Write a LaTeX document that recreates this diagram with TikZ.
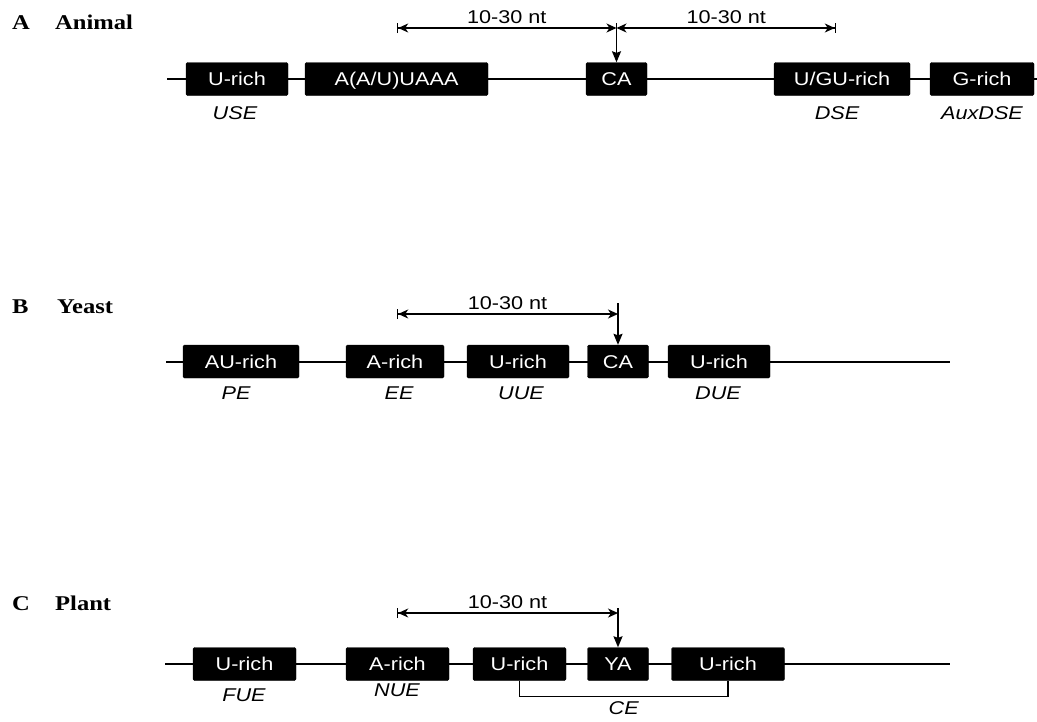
\documentclass[tikz,border=0pt]{standalone}
\usepackage{fontspec}
\usepackage{tikz}
\usetikzlibrary{arrows.meta, positioning}
\newfontfamily\sansface[FakeStretch=1.17]{Liberation Sans}
\newfontfamily\headface[FakeStretch=1.17]{Liberation Serif}
\tikzset{
    elemBox/.style={fill=black, draw=black, rounded corners=1.5pt, inner sep=0pt, minimum height=33pt, text=white, text height=13.5pt, text depth=0pt, font=\sansface\fontsize{18.5}{20}\selectfont},
    elemLabel/.style={inner sep=0pt, font=\sansface\itshape\fontsize{18.5}{20}\selectfont},
    panelHead/.style={anchor=base west, inner sep=0pt, font=\headface\bfseries\fontsize{21}{24}\selectfont},
    backbone/.style={line width=2pt},
    dimLine/.style={line width=1.2pt},
    spanL/.style={dimLine, {Bar[width=10pt]Stealth[length=10pt, width=9pt, inset=3pt]}-{Stealth[length=10pt, width=9pt, inset=3pt]}},
    spanR/.style={dimLine, {Stealth[length=10pt, width=9pt, inset=3pt]}-{Stealth[length=10pt, width=9pt, inset=3pt]Bar[width=10pt]}},
    cutArrow/.style={line width=1.4pt, -{Stealth[length=11pt, width=9pt, inset=1.5pt]}},
    spanText/.style={midway, above=3.5pt, inner sep=0pt, font=\sansface\fontsize{18.5}{20}\selectfont}
}
\begin{document}
\begin{tikzpicture}[x=1pt, y=-1pt]
    \useasboundingbox (0,0) rectangle (1037,721);
    % --- Panel A: Animal ---
    \begin{scope}[shift={(0,79)}]
        \node[panelHead] (hA) at (12,-50) {A};
        \node[panelHead] (tA) at (55,-50) {Animal};
        \coordinate (sA) at (167,0); \coordinate (eA) at (1037,0);
        \draw[backbone] (sA)--(eA);
        \node[elemBox, minimum width=102pt] (uA) at (237,0) {U-rich};
        \node[elemBox, minimum width=183pt] (hexA) at (396.5,0) {A(A/U)UAAA};
        \node[elemBox, minimum width=61pt] (caA) at (616.5,0) {CA};
        \node[elemBox, minimum width=136pt] (ugA) at (842,0) {U/GU-rich};
        \node[elemBox, minimum width=104pt] (gA) at (982,0) {G-rich};
        \node[elemLabel] (lUSE) at (235,34) {USE};
        \node[elemLabel] (lDSE) at (837,34) {DSE};
        \node[elemLabel] (lAux) at (982,34) {AuxDSE};
        \coordinate (dlA) at (397,-51); \coordinate (dmA) at (616.5,-51); \coordinate (drA) at (836,-51);
        \coordinate (cutA) at (616.5,-56);
        \draw[spanL] (dlA)--(dmA) node[spanText]{10-30 nt};
        \draw[spanR] (dmA)--(drA) node[spanText]{10-30 nt};
        \draw[cutArrow] (cutA)--(caA.north);
    \end{scope}
    % --- Panel B: Yeast ---
    \begin{scope}[shift={(0,361.5)}]
        \node[panelHead] (hB) at (12,-48.5) {B};
        \node[panelHead] (tB) at (57,-48.5) {Yeast};
        \coordinate (sB) at (166,0); \coordinate (eB) at (950,0);
        \draw[backbone] (sB)--(eB);
        \node[elemBox, minimum width=116pt] (auB) at (241,0) {AU-rich};
        \node[elemBox, minimum width=98pt] (aB) at (395,0) {A-rich};
        \node[elemBox, minimum width=102pt] (uB) at (518,0) {U-rich};
        \node[elemBox, minimum width=61pt] (caB) at (618,0) {CA};
        \node[elemBox, minimum width=102pt] (duB) at (719,0) {U-rich};
        \node[elemLabel] (lPE) at (236,31.5) {PE};
        \node[elemLabel] (lEE) at (399,31.5) {EE};
        \node[elemLabel] (lUUE) at (521,31.5) {UUE};
        \node[elemLabel] (lDUE) at (718,31.5) {DUE};
        \coordinate (dlB) at (397,-47.5); \coordinate (dmB) at (618,-47.5);
        \coordinate (cutB) at (618,-58.5);
        \draw[spanL] (dlB)--(dmB) node[spanText]{10-30 nt};
        \draw[cutArrow] (cutB)--(caB.north);
    \end{scope}
    % --- Panel C: Plant ---
    \begin{scope}[shift={(0,664)}]
        \node[panelHead] (hC) at (12,-54) {C};
        \node[panelHead] (tC) at (55,-54) {Plant};
        \coordinate (sC) at (165,0); \coordinate (eC) at (950,0);
        \draw[backbone] (sC)--(eC);
        \node[elemBox, minimum width=103pt] (uC1) at (244.5,0) {U-rich};
        \node[elemBox, minimum width=103pt] (aC) at (397.5,0) {A-rich};
        \node[elemBox, minimum width=93pt] (uC3) at (519.5,0) {U-rich};
        \node[elemBox, minimum width=61pt] (yaC) at (618,0) {YA};
        \node[elemBox, minimum width=113pt] (uC5) at (728,0) {U-rich};
        \node[elemLabel] (lFUE) at (244,31) {FUE};
        \node[elemLabel] (lNUE) at (397,26) {NUE};
        \draw[dimLine] (uC3.south) -- ++(0,15.5) -| node[pos=0.25, below=5pt, elemLabel]{CE} (uC5.south);
        \coordinate (dlC) at (397,-51); \coordinate (dmC) at (618,-51);
        \coordinate (cutC) at (618,-56);
        \draw[spanL] (dlC)--(dmC) node[spanText]{10-30 nt};
        \draw[cutArrow] (cutC)--(yaC.north);
    \end{scope}
\end{tikzpicture}
\end{document}
